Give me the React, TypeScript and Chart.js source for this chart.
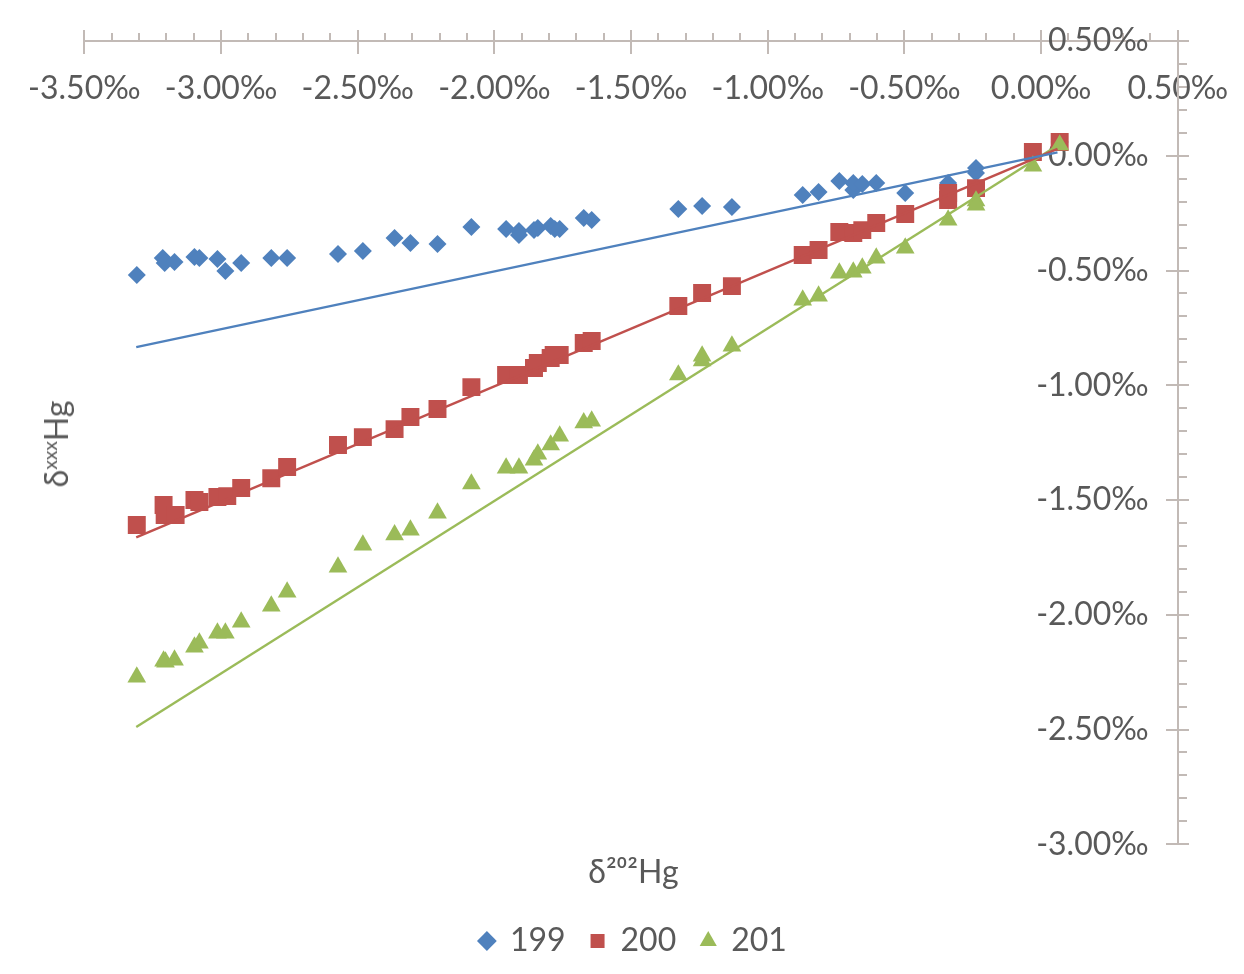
import React, { useEffect, useRef } from 'react';
import { Chart, registerables } from 'chart.js';

Chart.register(...registerables);

// ---- data ----
const s199X = [-3.308, -3.213, -3.206, -3.170, -3.097, -3.079, -3.013, -2.984, -2.926, -2.816, -2.758, -2.572, -2.481, -2.365, -2.307, -2.208, -2.084, -1.957, -1.910, -1.910, -1.855, -1.841, -1.794, -1.779, -1.761, -1.673, -1.644, -1.327, -1.240, -1.131, -0.872, -0.814, -0.738, -0.687, -0.687, -0.654, -0.603, -0.497, -0.340, -0.340, -0.238, -0.238, -0.030, 0.068];
const s199Y = [-0.520, -0.446, -0.467, -0.463, -0.441, -0.446, -0.450, -0.502, -0.467, -0.446, -0.446, -0.428, -0.415, -0.358, -0.380, -0.385, -0.310, -0.319, -0.345, -0.328, -0.324, -0.315, -0.306, -0.319, -0.319, -0.271, -0.280, -0.232, -0.219, -0.223, -0.171, -0.158, -0.110, -0.149, -0.119, -0.123, -0.119, -0.162, -0.119, -0.141, -0.053, -0.075, 0.010, 0.060];

const s200X = [-3.308, -3.210, -3.206, -3.166, -3.097, -3.079, -3.013, -2.977, -2.926, -2.816, -2.758, -2.572, -2.481, -2.365, -2.307, -2.208, -2.084, -1.957, -1.910, -1.855, -1.841, -1.794, -1.783, -1.761, -1.673, -1.644, -1.327, -1.240, -1.131, -0.872, -0.814, -0.738, -0.687, -0.654, -0.603, -0.497, -0.340, -0.340, -0.238, -0.030, 0.068];
const s200Y = [-1.609, -1.522, -1.565, -1.565, -1.500, -1.509, -1.487, -1.483, -1.448, -1.405, -1.356, -1.260, -1.226, -1.191, -1.138, -1.103, -1.008, -0.955, -0.955, -0.925, -0.903, -0.881, -0.868, -0.868, -0.816, -0.807, -0.655, -0.598, -0.568, -0.432, -0.411, -0.332, -0.337, -0.324, -0.293, -0.254, -0.162, -0.193, -0.141, 0.016, 0.060];

const s201X = [-3.308, -3.210, -3.203, -3.170, -3.097, -3.079, -3.013, -2.984, -2.926, -2.816, -2.758, -2.572, -2.481, -2.365, -2.307, -2.208, -2.084, -1.957, -1.910, -1.855, -1.841, -1.794, -1.761, -1.673, -1.644, -1.327, -1.240, -1.240, -1.131, -0.872, -0.814, -0.738, -0.687, -0.654, -0.603, -0.497, -0.340, -0.238, -0.238, -0.030, 0.068];
const s201Y = [-2.271, -2.202, -2.206, -2.197, -2.141, -2.123, -2.080, -2.080, -2.032, -1.962, -1.901, -1.792, -1.696, -1.652, -1.631, -1.557, -1.430, -1.361, -1.361, -1.326, -1.300, -1.260, -1.221, -1.164, -1.156, -0.955, -0.873, -0.894, -0.829, -0.629, -0.611, -0.511, -0.507, -0.489, -0.446, -0.402, -0.280, -0.197, -0.215, -0.045, 0.047];

// theoretical mass-dependent lines (end points)
const lineX = [-3.31, 0.06];
const line199 = [-0.834, 0.015];
const line200 = [-1.663, 0.030];
const line201 = [-2.489, 0.045];

const seriesNames = ['199', '200', '201'];

// axis ranges / ticks
const X_MIN = -3.5;
const X_MAX = 0.5;
const Y_MIN = -3.0;
const Y_MAX = 0.5;
const MAJOR = 0.5;
const MINOR = 0.1;
// x value at which the y-axis tick labels are right-aligned (label column)
const Y_LABEL_X = 0.393;

// ---- styles ----
const FONT = "Lato, 'DejaVu Sans', sans-serif";
const FS = 32;
const TEXT = '#595959';
const AXIS = '#c2bab6';
const BLUE = '#4F81BD';
const RED = '#C0504D';
const GREEN = '#9BBB59';

const pts = (xs: number[], ys: number[]) => xs.map((x, i) => ({ x, y: ys[i] }));
const fmt = (v: number) => `${Number(v).toFixed(2)}‰`;

function decoAxis(horizontal: boolean, step: number, len: number) {
  const base: any = {
    type: 'linear',
    min: horizontal ? X_MIN : Y_MIN,
    max: horizontal ? X_MAX : Y_MAX,
    position: horizontal ? { y: Y_MAX } : { x: X_MAX },
    border: { display: false },
    grid: {
      display: true,
      drawOnChartArea: false,
      drawTicks: true,
      tickLength: len,
      tickColor: AXIS,
      tickWidth: 2,
      color: AXIS,
      lineWidth: 2,
    },
    ticks: { display: false, stepSize: step, autoSkip: false, maxTicksLimit: 200 },
  };
  return base;
}

export default function App() {
  const ref = useRef<HTMLCanvasElement>(null);

  useEffect(() => {
    document.body.style.margin = '0';
    document.body.style.background = '#ffffff';
    const canvas = ref.current;
    if (!canvas) return;

    const chart = new Chart(canvas, {
      type: 'scatter',
      data: {
        datasets: [
          {
            label: seriesNames[0],
            data: pts(s199X, s199Y),
            pointStyle: 'rectRot',
            pointRadius: 9,
            backgroundColor: BLUE,
            borderColor: BLUE,
            borderWidth: 0,
            pointBorderWidth: 0,
            order: 3,
            xAxisID: 'x',
            yAxisID: 'y',
          },
          {
            label: seriesNames[1],
            data: pts(s200X, s200Y),
            pointStyle: 'rect',
            pointRadius: 12.7,
            backgroundColor: RED,
            borderColor: RED,
            borderWidth: 0,
            pointBorderWidth: 0,
            order: 2,
            xAxisID: 'x',
            yAxisID: 'y',
          },
          {
            label: seriesNames[2],
            data: pts(s201X, s201Y),
            pointStyle: 'triangle',
            pointRadius: 10.8,
            backgroundColor: GREEN,
            borderColor: GREEN,
            borderWidth: 0,
            pointBorderWidth: 0,
            order: 1,
            xAxisID: 'x',
            yAxisID: 'y',
          },
          {
            label: 'line199',
            data: pts(lineX, line199),
            showLine: true,
            pointRadius: 0,
            borderColor: BLUE,
            borderWidth: 2.4,
            order: 0,
            xAxisID: 'x',
            yAxisID: 'y',
          },
          {
            label: 'line200',
            data: pts(lineX, line200),
            showLine: true,
            pointRadius: 0,
            borderColor: RED,
            borderWidth: 2.4,
            order: 0,
            xAxisID: 'x',
            yAxisID: 'y',
          },
          {
            label: 'line201',
            data: pts(lineX, line201),
            showLine: true,
            pointRadius: 0,
            borderColor: GREEN,
            borderWidth: 2.4,
            order: 0,
            xAxisID: 'x',
            yAxisID: 'y',
          },
        ],
      },
      options: {
        responsive: false,
        animation: false,
        devicePixelRatio: 1,
        layout: { padding: { left: 84.3, right: 61.5, top: 41, bottom: 7 } },
        events: [],
        scales: {
          x: {
            type: 'linear',
            min: X_MIN,
            max: X_MAX,
            position: { y: Y_MAX },
            border: { display: true, color: AXIS, width: 2 },
            grid: {
              display: true,
              drawOnChartArea: false,
              drawTicks: true,
              tickLength: 12,
              tickColor: AXIS,
              tickWidth: 2,
              color: AXIS,
              lineWidth: 2,
            },
            ticks: {
              stepSize: MAJOR,
              autoSkip: false,
              maxRotation: 0,
              minRotation: 0,
              padding: 16,
              color: TEXT,
              font: { family: FONT, size: FS, lineHeight: 1.2 },
              callback: (v: any) => fmt(v),
            },
          },
          xMinor: decoAxis(true, MINOR, -8),
          xMajorUp: decoAxis(true, MAJOR, -11),
          y: {
            type: 'linear',
            min: Y_MIN,
            max: Y_MAX,
            position: { x: X_MAX },
            border: { display: true, color: AXIS, width: 2 },
            grid: {
              display: true,
              drawOnChartArea: false,
              drawTicks: true,
              tickLength: 11,
              tickColor: AXIS,
              tickWidth: 2,
              color: AXIS,
              lineWidth: 2,
            },
            ticks: { display: false, stepSize: MAJOR, autoSkip: false },
          },
          yLabels: {
            type: 'linear',
            min: Y_MIN,
            max: Y_MAX,
            position: { x: Y_LABEL_X },
            border: { display: false },
            grid: { display: false, drawTicks: false },
            ticks: {
              stepSize: MAJOR,
              autoSkip: false,
              padding: 0,
              color: TEXT,
              font: { family: FONT, size: FS, lineHeight: 1.2 },
              callback: (v: any) => fmt(v),
            },
          },
          yMinor: decoAxis(false, MINOR, -9),
          yMajorRight: decoAxis(false, MAJOR, -11),
        } as any,
        plugins: {
          tooltip: { enabled: false },
          title: {
            display: true,
            position: 'bottom',
            text: 'δ²⁰²Hg',
            color: TEXT,
            font: { family: FONT, size: FS, weight: 'normal', lineHeight: 1.2 },
            padding: { top: 9.5, bottom: 7.8 },
          },
          legend: {
            display: true,
            position: 'bottom',
            weight: 3000,
            labels: {
              usePointStyle: true,
              boxWidth: 14,
              boxHeight: 14,
              padding: 25,
              color: TEXT,
              font: { family: FONT, size: FS, lineHeight: 1.2 },
              filter: (item: any) => item.datasetIndex < 3,
              sort: (a: any, b: any) => a.datasetIndex - b.datasetIndex,
            },
          } as any,
        },
      },
    });
    return () => chart.destroy();
  }, []);

  return (
    <div style={{ position: 'relative', width: 1244, height: 974, background: '#fff' }}>
      <canvas ref={ref} width={1244} height={974} style={{ display: 'block', width: 1244, height: 974 }} />
      <div
        style={{
          position: 'absolute',
          left: 56,
          top: 444,
          transform: 'translate(-50%, -50%) rotate(-90deg)',
          fontFamily: FONT,
          fontSize: FS,
          color: TEXT,
          whiteSpace: 'nowrap',
          lineHeight: 1,
        }}
      >
        δ<sup style={{ fontSize: '0.6em', verticalAlign: '0.55em' }}>xxx</sup>Hg
      </div>
    </div>
  );
}
